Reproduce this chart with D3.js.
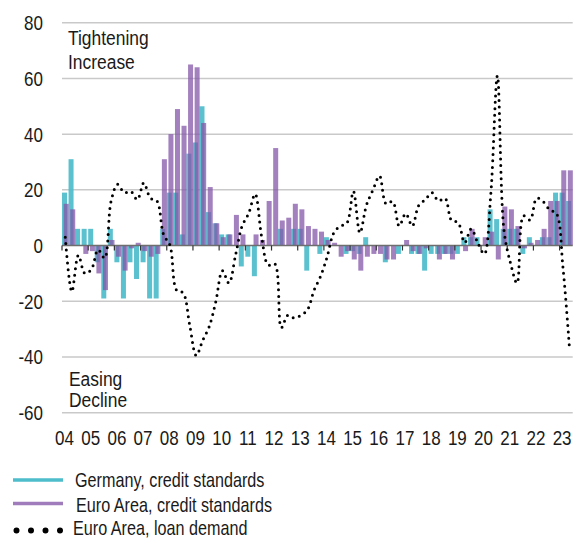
<!DOCTYPE html>
<html><head><meta charset="utf-8">
<script src="https://cdn.jsdelivr.net/npm/d3@7"></script>
<style>
body{margin:0;background:#fff}
svg{display:block}
text{font-family:'Liberation Sans Narrow','Arial Narrow','Liberation Sans',Arial,sans-serif;fill:#1a1a1a}
</style>
</head><body>
<svg id="chart" width="582" height="538"></svg>
<script>
// ---- data ----
const years = ["2004","2005","2006","2007","2008","2009","2010","2011","2012","2013","2014","2015","2016","2017","2018","2019","2020","2021","2022","2023"];
const quarterNames = ["Q1","Q2","Q3","Q4"];
const categories = years.flatMap(yr => quarterNames.map(q => yr + q)).slice(0, 78);
const yearLabels = ["04","05","06","07","08","09","10","11","12","13","14","15","16","17","18","19","20","21","22","23"];
const yTicks = [-60,-40,-20,0,20,40,60,80];

const germany = [19,31,6,6,6,-6,-19,6,-6,-19,-6,-12,-6,-19,-19,6,19,19,4,33,37,50,12,8,4,4,0,-7.5,-4,-11,0,0,0,6,0,6,6,-9,0,-3,3,0,0,-3,-2,-3,3,0,0,-6,0,-3,0,-3,-3,-9,-3,-3,-3,-3,-3,3,3,3,0,13,9.5,6,6,6,-3,3,0,3,3,19,19,16];
const euroArea = [15,13,0,-3,-2,-10,-16,2,-4,-9,-1,1,-2,-4,-3,31,40,49,43,65,64,44,21,8,3,4,11,4,0,4,2,16,35,9,10,15,13,7,6,5,2,1,-4,-2,-5,-9,-4,-3,-3,-5,-5,0,2,-2,-3,-1,0,-5,-3,-5,0,-2,6,0,3,5,-5,14,13,7,-1,1,2,6,16,16,27,27];
const loanDemand = [3,-16.5,-3.5,-10,-8.5,-1.5,-4.5,16,22,19,19.5,16.5,22.5,17,16,4,0,-16,-17,-28.5,-39.5,-34,-29,-20,-9,-13.5,-3.5,7,11.5,18.5,3,-7,-6.5,-29.5,-25,-26,-25,-23,-16,-11,-4,4.5,7,8,19.5,4.5,14.5,20,25,15,15.8,7,11.5,7,14.5,16.5,19,16,17,9,8.3,1,6,1,-3,18.8,61,5.6,-6.3,-13.5,10.7,9.2,17,15.8,12.8,11.6,-7.5,-36.6];

const seriesNames = ["Germany, credit standards","Euro Area, credit standards","Euro Area, loan demand"];

// ---- setup ----
const svg = d3.select("#chart");
const x = d3.scaleBand().domain(categories).range([62, 572.7]).padding(0);
const y = d3.scaleLinear().domain([-60, 80]).range([412.7, 22.7]);
const bw = x.bandwidth();
const teal = "#4dbccb", purple = "#8456a8";
const SX = 0.83; // condensed text

// grid lines
svg.append("g").selectAll("line").data(yTicks.filter(t => t !== 0)).join("line")
  .attr("x1", 62).attr("x2", 572.7)
  .attr("y1", d => y(d)).attr("y2", d => y(d))
  .attr("stroke", "#c9c9c9").attr("stroke-width", 1.5);

// y labels
svg.append("g").selectAll("text").data(yTicks).join("text")
  .attr("transform", d => `translate(43,${y(d)}) scale(${SX},1)`).attr("dy", "0.36em")
  .attr("text-anchor", "end").attr("font-size", 20.5).text(d => d);

// bars
const bars = svg.append("g");
bars.selectAll("rect.de").data(germany).join("rect").attr("class","de")
  .attr("x", (d,i) => x(categories[i]))
  .attr("width", bw * 0.765)
  .attr("y", d => Math.min(y(d), y(0)))
  .attr("height", d => Math.abs(y(d) - y(0)))
  .attr("fill", teal).attr("fill-opacity", 0.92);
bars.selectAll("rect.ea").data(euroArea).join("rect").attr("class","ea")
  .attr("x", (d,i) => x(categories[i]) + bw * 0.255)
  .attr("width", bw * 0.765)
  .attr("y", d => Math.min(y(d), y(0)))
  .attr("height", d => Math.abs(y(d) - y(0)))
  .attr("fill", purple).attr("fill-opacity", 0.75);

// zero axis with year ticks
svg.append("line").attr("x1", 62).attr("x2", 572.7).attr("y1", y(0)).attr("y2", y(0))
  .attr("stroke", "#6e6e6e").attr("stroke-width", 1.5);
svg.append("g").selectAll("line").data(yearLabels).join("line")
  .attr("x1", (d,i) => x(categories[i*4])).attr("x2", (d,i) => x(categories[i*4]))
  .attr("y1", y(0)).attr("y2", y(0) + 5)
  .attr("stroke", "#333").attr("stroke-width", 1.2);

// x labels
svg.append("g").selectAll("text").data(yearLabels).join("text")
  .attr("transform", (d,i) => `translate(${x(categories[i*4]) + 2.5},445) scale(${SX},1)`)
  .attr("text-anchor", "middle").attr("font-size", 20.5).text(d => d);

// loan demand dotted line
const line = d3.line()
  .x((d,i) => x(categories[i]) + bw/2)
  .y(d => y(d))
  .curve(d3.curveCatmullRom.alpha(0.5));
svg.append("path").datum(loanDemand).attr("d", line)
  .attr("fill", "none").attr("stroke", "#000").attr("stroke-width", 3)
  .attr("stroke-dasharray", "0 6.5").attr("stroke-linecap", "round");

// annotations
const ann = svg.append("g").attr("font-size", 21);
[["Tightening",68,45],["Increase",68,69],["Easing",69,386],["Decline",69,407]].forEach(([t,tx,ty]) => {
  ann.append("text").attr("transform", `translate(${tx},${ty}) scale(${SX},1)`).text(t);
});

// legend
const lg = svg.append("g");
lg.append("line").attr("x1", 13).attr("x2", 63).attr("y1", 480).attr("y2", 480)
  .attr("stroke", teal).attr("stroke-width", 3.5);
lg.append("line").attr("x1", 13).attr("x2", 63).attr("y1", 503.5).attr("y2", 503.5)
  .attr("stroke", "#a07cbc").attr("stroke-width", 3.5);
lg.append("line").attr("x1", 16.5).attr("x2", 61).attr("y1", 530.5).attr("y2", 530.5)
  .attr("stroke", "#000").attr("stroke-width", 6).attr("stroke-dasharray", "0 14.5").attr("stroke-linecap", "round");
lg.selectAll("text").data(seriesNames).join("text")
  .attr("transform", (d,i) => `translate(${[75, 76, 73][i]},${[487, 511.5, 535][i]}) scale(${SX},1)`)
  .attr("font-size", 19.5).text(d => d);
</script>
</body></html>
